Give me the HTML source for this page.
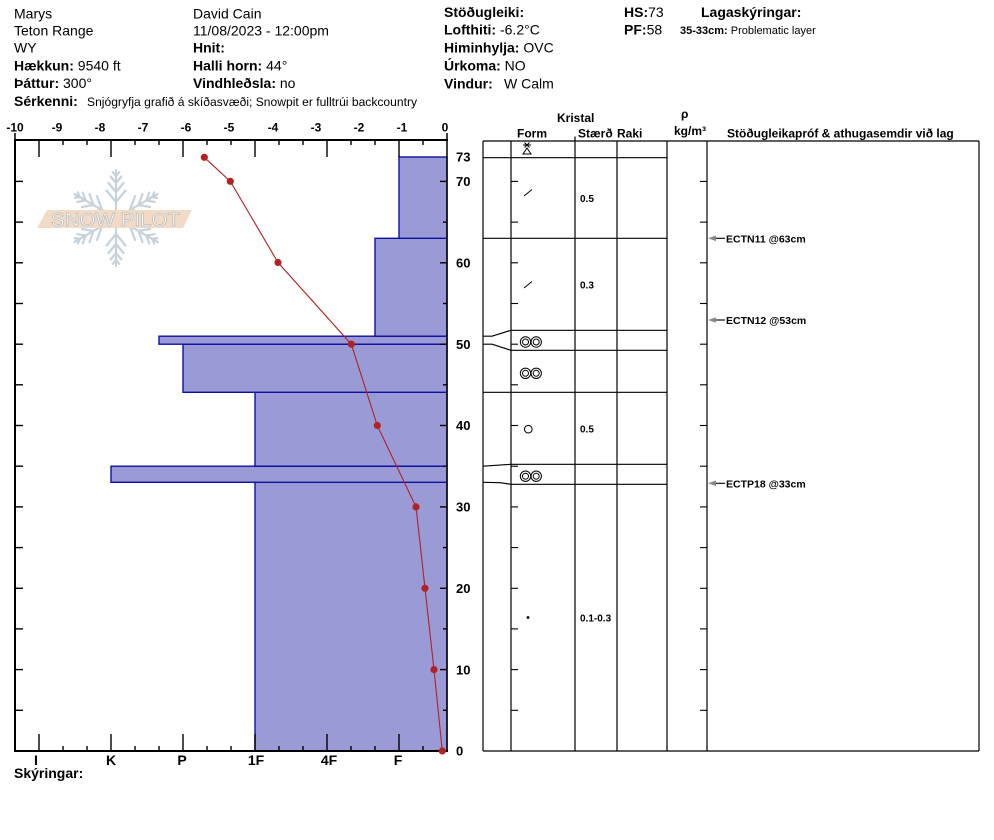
<!DOCTYPE html>
<html><head><meta charset="utf-8"><style>
html,body{margin:0;padding:0;background:#fff;width:994px;height:840px;overflow:hidden}
svg{display:block;font-family:"Liberation Sans",Arial,sans-serif}
</style></head><body>
<svg width="994" height="840" viewBox="0 0 994 840" xmlns="http://www.w3.org/2000/svg">
<defs>
<g id="arm" stroke="#c7d2da" stroke-width="2.2" fill="none" stroke-linecap="round">
<line x1="0" y1="-8" x2="0" y2="-48"/>
<polyline points="-9.5,-27.5 0,-16 9.5,-27.5"/>
<polyline points="-7.5,-35 0,-26 7.5,-35"/>
<polyline points="-5.4,-41.5 0,-35 5.4,-41.5"/>
<polyline points="-3.2,-45.8 0,-42 3.2,-45.8"/>
</g>
</defs>

<!-- Header -->
<g font-size="14" fill="#000">
<text x="14" y="18.3">Marys</text>
<text x="14" y="35.3">Teton Range</text>
<text x="14" y="52.7">WY</text>
<text x="14" y="70.7"><tspan font-weight="bold">Hækkun:</tspan> 9540 ft</text>
<text x="14" y="88"><tspan font-weight="bold">Þáttur:</tspan> 300°</text>
<text x="14" y="106"><tspan font-weight="bold">Sérkenni:</tspan><tspan x="87" font-size="12.1">Snjógryfja grafið á skíðasvæði;  Snowpit er fulltrúi backcountry</tspan></text>

<text x="193" y="18.3">David Cain</text>
<text x="193" y="35.3">11/08/2023 - 12:00pm</text>
<text x="193" y="52.7" font-weight="bold">Hnit:</text>
<text x="193" y="70.7"><tspan font-weight="bold">Halli horn:</tspan> 44°</text>
<text x="193" y="88"><tspan font-weight="bold">Vindhleðsla:</tspan> no</text>

<text x="444" y="17" font-weight="bold">Stöðugleiki:</text>
<text x="444" y="34.5"><tspan font-weight="bold">Lofthiti:</tspan> -6.2°C</text>
<text x="444" y="52.5"><tspan font-weight="bold">Himinhylja:</tspan> OVC</text>
<text x="444" y="70.5"><tspan font-weight="bold">Úrkoma:</tspan> NO</text>
<text x="444" y="88.5"><tspan font-weight="bold">Vindur:</tspan><tspan x="504">W Calm</tspan></text>

<text x="624" y="17"><tspan font-weight="bold">HS:</tspan>73</text>
<text x="624" y="34.5"><tspan font-weight="bold">PF:</tspan>58</text>
<text x="701" y="17" font-weight="bold">Lagaskýringar:</text>
<text x="680" y="34" font-size="11"><tspan font-weight="bold">35-33cm:</tspan> Problematic layer</text>
</g>

<!-- Logo -->
<g>
<use href="#arm" transform="translate(116,218) rotate(0)"/>
<use href="#arm" transform="translate(116,218) rotate(60)"/>
<use href="#arm" transform="translate(116,218) rotate(120)"/>
<use href="#arm" transform="translate(116,218) rotate(180)"/>
<use href="#arm" transform="translate(116,218) rotate(240)"/>
<use href="#arm" transform="translate(116,218) rotate(300)"/>
<polygon points="47,210 192,210 183,228 37,228" fill="#f2dbc6"/>
<text x="51" y="226" font-size="18" fill="#ffffff" stroke="#b9b9b9" stroke-width="0.7" textLength="129" lengthAdjust="spacingAndGlyphs">SNOW PILOT</text>
</g>

<!-- Hardness bars -->
<g fill="#9a9ad6" stroke="#1010a0" stroke-width="1.4">
<rect x="255" y="482.3" width="192" height="268.7"/>
<rect x="111" y="466.2" width="336" height="16.1"/>
<rect x="255" y="392.3" width="192" height="73.9"/>
<rect x="183" y="344.2" width="264" height="48.1"/>
<rect x="159" y="336.2" width="288" height="8"/>
<rect x="375" y="238.3" width="72" height="97.9"/>
<rect x="399" y="157" width="48" height="81.3"/>
</g>

<!-- Axes -->
<g stroke="#000" fill="none">
<line x1="14" y1="140" x2="448" y2="140" stroke-width="2"/>
<line x1="15" y1="139" x2="15" y2="752" stroke-width="2"/>
<line x1="14" y1="751" x2="448" y2="751" stroke-width="2"/>
<line x1="447" y1="133" x2="447" y2="751" stroke-width="1.5"/>
<line x1="15" y1="133" x2="15" y2="140" stroke-width="1.5"/>
</g>
<!-- top ticks -->
<g stroke="#000" stroke-width="1.4">
<line x1="39" y1="140" x2="39" y2="157"/>
<line x1="63" y1="140" x2="63" y2="145"/>
<line x1="87" y1="140" x2="87" y2="145"/>
<line x1="111" y1="140" x2="111" y2="157"/>
<line x1="135" y1="140" x2="135" y2="145"/>
<line x1="159" y1="140" x2="159" y2="145"/>
<line x1="183" y1="140" x2="183" y2="157"/>
<line x1="207" y1="140" x2="207" y2="145"/>
<line x1="231" y1="140" x2="231" y2="145"/>
<line x1="255" y1="140" x2="255" y2="157"/>
<line x1="279" y1="140" x2="279" y2="145"/>
<line x1="303" y1="140" x2="303" y2="145"/>
<line x1="327" y1="140" x2="327" y2="157"/>
<line x1="351" y1="140" x2="351" y2="145"/>
<line x1="375" y1="140" x2="375" y2="145"/>
<line x1="399" y1="140" x2="399" y2="157"/>
<line x1="423" y1="140" x2="423" y2="145"/>
<!-- bottom ticks -->
<line x1="15" y1="751" x2="15" y2="746"/>
<line x1="39" y1="751" x2="39" y2="734"/>
<line x1="63" y1="751" x2="63" y2="746"/>
<line x1="87" y1="751" x2="87" y2="746"/>
<line x1="111" y1="751" x2="111" y2="734"/>
<line x1="135" y1="751" x2="135" y2="746"/>
<line x1="159" y1="751" x2="159" y2="746"/>
<line x1="183" y1="751" x2="183" y2="734"/>
<line x1="207" y1="751" x2="207" y2="746"/>
<line x1="231" y1="751" x2="231" y2="746"/>
<line x1="255" y1="751" x2="255" y2="734"/>
<line x1="279" y1="751" x2="279" y2="746"/>
<line x1="303" y1="751" x2="303" y2="746"/>
<line x1="327" y1="751" x2="327" y2="734"/>
<line x1="351" y1="751" x2="351" y2="746"/>
<line x1="375" y1="751" x2="375" y2="746"/>
<line x1="399" y1="751" x2="399" y2="734"/>
<line x1="423" y1="751" x2="423" y2="746"/>
<!-- left axis ticks -->
<line x1="15" y1="710.3" x2="23" y2="710.3"/>
<line x1="15" y1="669.6" x2="23" y2="669.6"/>
<line x1="15" y1="628.9" x2="23" y2="628.9"/>
<line x1="15" y1="588.3" x2="23" y2="588.3"/>
<line x1="15" y1="547.6" x2="23" y2="547.6"/>
<line x1="15" y1="506.9" x2="23" y2="506.9"/>
<line x1="15" y1="466.2" x2="23" y2="466.2"/>
<line x1="15" y1="425.5" x2="23" y2="425.5"/>
<line x1="15" y1="384.8" x2="23" y2="384.8"/>
<line x1="15" y1="344.2" x2="23" y2="344.2"/>
<line x1="15" y1="303.5" x2="23" y2="303.5"/>
<line x1="15" y1="262.8" x2="23" y2="262.8"/>
<line x1="15" y1="222.1" x2="23" y2="222.1"/>
<line x1="15" y1="181.4" x2="23" y2="181.4"/>
<!-- right axis ticks -->
<line x1="443" y1="710.3" x2="447" y2="710.3"/>
<line x1="440" y1="669.6" x2="447" y2="669.6"/>
<line x1="443" y1="628.9" x2="447" y2="628.9"/>
<line x1="440" y1="588.3" x2="447" y2="588.3"/>
<line x1="443" y1="547.6" x2="447" y2="547.6"/>
<line x1="440" y1="506.9" x2="447" y2="506.9"/>
<line x1="443" y1="466.2" x2="447" y2="466.2"/>
<line x1="440" y1="425.5" x2="447" y2="425.5"/>
<line x1="443" y1="384.8" x2="447" y2="384.8"/>
<line x1="440" y1="344.2" x2="447" y2="344.2"/>
<line x1="443" y1="303.5" x2="447" y2="303.5"/>
<line x1="440" y1="262.8" x2="447" y2="262.8"/>
<line x1="443" y1="222.1" x2="447" y2="222.1"/>
<line x1="440" y1="181.4" x2="447" y2="181.4"/>
</g>

<!-- top axis labels -->
<g font-size="12" font-weight="bold" text-anchor="middle" fill="#000">
<text x="15" y="131.5">-10</text>
<text x="57" y="131.5">-9</text>
<text x="100" y="131.5">-8</text>
<text x="143" y="131.5">-7</text>
<text x="186" y="131.5">-6</text>
<text x="229" y="131.5">-5</text>
<text x="273" y="131.5">-4</text>
<text x="316" y="131.5">-3</text>
<text x="359" y="131.5">-2</text>
<text x="402" y="131.5">-1</text>
<text x="445" y="131.5">0</text>
</g>
<!-- right axis labels -->
<g font-size="13" font-weight="bold" fill="#000">
<text x="456" y="161.7">73</text>
<text x="456" y="186.1">70</text>
<text x="456" y="267.5">60</text>
<text x="456" y="348.9">50</text>
<text x="456" y="430.2">40</text>
<text x="456" y="511.6">30</text>
<text x="456" y="593">20</text>
<text x="456" y="674.3">10</text>
<text x="456" y="755.7">0</text>
</g>
<!-- hardness labels -->
<g font-size="14" font-weight="bold" text-anchor="middle" fill="#000">
<text x="36" y="765">I</text>
<text x="111" y="765">K</text>
<text x="182" y="765">P</text>
<text x="256" y="765">1F</text>
<text x="329" y="765">4F</text>
<text x="398" y="765">F</text>
</g>
<text x="14" y="778" font-size="14" font-weight="bold">Skýringar:</text>

<!-- temperature profile -->
<polyline points="204.3,157.3 230.3,181.3 278,262.5 351.3,344.2 377.3,425.5 416,506.9 425,588.3 434,669.6 442.3,751" fill="none" stroke="#b22222" stroke-width="1.1"/>
<g fill="#b22222">
<circle cx="204.3" cy="157.3" r="3.6"/>
<circle cx="230.3" cy="181.3" r="3.6"/>
<circle cx="278" cy="262.5" r="3.6"/>
<circle cx="351.3" cy="344.2" r="3.6"/>
<circle cx="377.3" cy="425.5" r="3.6"/>
<circle cx="416" cy="506.9" r="3.6"/>
<circle cx="425" cy="588.3" r="3.6"/>
<circle cx="434" cy="669.6" r="3.6"/>
<circle cx="442.3" cy="751" r="3.6"/>
</g>

<!-- Right panel headers -->
<g font-size="12" font-weight="bold" fill="#000">
<text x="557" y="122">Kristal</text>
<text x="517" y="137.5">Form</text>
<text x="578" y="137.5">Stærð</text>
<text x="617" y="137.5">Raki</text>
<text x="681" y="118">ρ</text>
<text x="674" y="135">kg/m³</text>
<text x="727" y="137.5">Stöðugleikapróf &amp; athugasemdir við lag</text>
</g>

<!-- Right panel grid -->
<g stroke="#000" stroke-width="1.2" fill="none">
<line x1="483" y1="141" x2="979" y2="141"/>
<line x1="483" y1="751" x2="979" y2="751"/>
<line x1="483" y1="141" x2="483" y2="751"/>
<line x1="511" y1="141" x2="511" y2="751"/>
<line x1="575" y1="136.5" x2="575" y2="751"/>
<line x1="617" y1="141" x2="617" y2="751"/>
<line x1="667" y1="141" x2="667" y2="751"/>
<line x1="707" y1="141" x2="707" y2="751"/>
<line x1="979" y1="141" x2="979" y2="751"/>
<line x1="483" y1="157.7" x2="667" y2="157.7"/>
<line x1="483" y1="238.3" x2="667" y2="238.3"/>
<polyline points="483,336.2 492,336.2 511,330.3 667,330.3"/>
<polyline points="483,344.2 492,344.2 511,350.3 667,350.3"/>
<line x1="483" y1="392.3" x2="667" y2="392.3"/>
<polyline points="483,466.2 511,464.3 667,464.3"/>
<polyline points="483,482.3 500,482.7 511,484.3 667,484.3"/>
</g>
<!-- right panel ticks -->
<g stroke="#000" stroke-width="1.1">
<line x1="511" y1="710.3" x2="518" y2="710.3"/><line x1="700" y1="710.3" x2="707" y2="710.3"/>
<line x1="511" y1="669.6" x2="518" y2="669.6"/><line x1="700" y1="669.6" x2="707" y2="669.6"/>
<line x1="511" y1="628.9" x2="518" y2="628.9"/><line x1="700" y1="628.9" x2="707" y2="628.9"/>
<line x1="511" y1="588.3" x2="518" y2="588.3"/><line x1="700" y1="588.3" x2="707" y2="588.3"/>
<line x1="511" y1="547.6" x2="518" y2="547.6"/><line x1="700" y1="547.6" x2="707" y2="547.6"/>
<line x1="511" y1="506.9" x2="518" y2="506.9"/><line x1="700" y1="506.9" x2="707" y2="506.9"/>
<line x1="511" y1="466.2" x2="518" y2="466.2"/><line x1="700" y1="466.2" x2="707" y2="466.2"/>
<line x1="511" y1="425.5" x2="518" y2="425.5"/><line x1="700" y1="425.5" x2="707" y2="425.5"/>
<line x1="511" y1="384.8" x2="518" y2="384.8"/><line x1="700" y1="384.8" x2="707" y2="384.8"/>
<line x1="511" y1="344.2" x2="518" y2="344.2"/><line x1="700" y1="344.2" x2="707" y2="344.2"/>
<line x1="511" y1="303.5" x2="518" y2="303.5"/><line x1="700" y1="303.5" x2="707" y2="303.5"/>
<line x1="511" y1="262.8" x2="518" y2="262.8"/><line x1="700" y1="262.8" x2="707" y2="262.8"/>
<line x1="511" y1="222.1" x2="518" y2="222.1"/><line x1="700" y1="222.1" x2="707" y2="222.1"/>
<line x1="511" y1="181.4" x2="518" y2="181.4"/><line x1="700" y1="181.4" x2="707" y2="181.4"/>
</g>

<!-- crystal symbols -->
<g stroke="#000" stroke-width="1" fill="none">
<line x1="523" y1="145" x2="531" y2="145"/>
<line x1="524.5" y1="142.5" x2="529.5" y2="147.5"/>
<line x1="529.5" y1="142.5" x2="524.5" y2="147.5"/>
<polygon points="523,154 531,154 527,148"/>
<line x1="524" y1="196" x2="532" y2="189.5"/>
<line x1="524" y1="288" x2="532" y2="281.5"/>
<circle cx="525.5" cy="342" r="5.2"/><circle cx="536.2" cy="342" r="5.2"/>
<circle cx="525.5" cy="342" r="3"/><circle cx="536.2" cy="342" r="3"/>
<circle cx="525.5" cy="373.3" r="5.2"/><circle cx="536.2" cy="373.3" r="5.2"/>
<circle cx="525.5" cy="373.3" r="3"/><circle cx="536.2" cy="373.3" r="3"/>
<circle cx="528.3" cy="429.2" r="3.8"/>
<circle cx="525.5" cy="476.2" r="5.2"/><circle cx="536.2" cy="476.2" r="5.2"/>
<circle cx="525.5" cy="476.2" r="3"/><circle cx="536.2" cy="476.2" r="3"/>
</g>
<circle cx="528" cy="617.5" r="1.4" fill="#000"/>
<g font-size="10" font-weight="bold" fill="#000">
<text x="580" y="202">0.5</text>
<text x="580" y="288.5">0.3</text>
<text x="580" y="432.7">0.5</text>
<text x="580" y="621.5">0.1-0.3</text>
</g>

<!-- stability test comments -->
<g>
<line x1="714" y1="238.3" x2="725" y2="238.3" stroke="#000" stroke-width="1.1"/>
<polygon points="708,238.3 716,235.5 716,241.1" fill="#888"/>
<line x1="714" y1="320" x2="725" y2="320" stroke="#000" stroke-width="1.1"/>
<polygon points="708,320 716,317.2 716,322.8" fill="#888"/>
<line x1="714" y1="483.3" x2="725" y2="483.3" stroke="#000" stroke-width="1.1"/>
<polygon points="708,483.3 716,480.5 716,486.1" fill="#888"/>
</g>
<g font-size="10.5" font-weight="bold" fill="#000">
<text x="726" y="242.5">ECTN11 @63cm</text>
<text x="726" y="324">ECTN12 @53cm</text>
<text x="726" y="487.3">ECTP18 @33cm</text>
</g>
</svg>
</body></html>
